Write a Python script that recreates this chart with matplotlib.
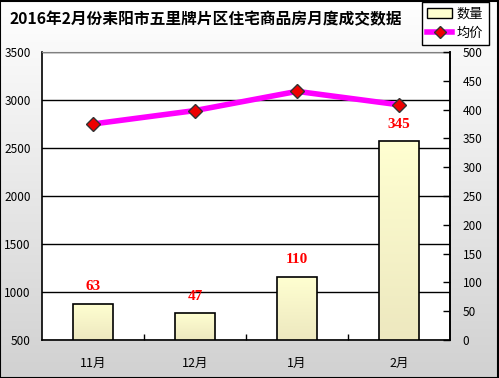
import numpy as np
import matplotlib
matplotlib.use("Agg")
import matplotlib.pyplot as plt
from matplotlib.patches import Rectangle
from matplotlib.lines import Line2D

plt.rcParams['font.family'] = ['Noto Sans CJK SC', 'DejaVu Sans']

title = "2016年2月份耒阳市五里牌片区住宅商品房月度成交数据"
categories = ["11月", "12月", "1月", "2月"]
quantity = [63, 47, 110, 345]
avg_price = [2750, 2890, 3090, 2950]
left_ticks = [500, 1000, 1500, 2000, 2500, 3000, 3500]
right_ticks = [0, 50, 100, 150, 200, 250, 300, 350, 400, 450, 500]

W, H = 499, 378
fig = plt.figure(figsize=(W / 100, H / 100), dpi=100)

# background gradient
bg = fig.add_axes([0, 0, 1, 1], zorder=-10)
grad = np.linspace(0, 1, 256).reshape(-1, 1)
top_c = np.array([1.0, 1.0, 1.0])
bot_c = np.array([0.82, 0.82, 0.82])
img = top_c[None, None, :] * (1 - grad[:, :, None]) + bot_c[None, None, :] * grad[:, :, None]
bg.imshow(img, aspect='auto', extent=[0, 1, 0, 1], origin='upper')
bg.add_patch(Rectangle((0.001, 0.001), 0.997, 0.996, fill=False, edgecolor='black', lw=1.5,
                       transform=bg.transAxes))
bg.set_axis_off()

x0, x1 = 42 / W, 450 / W
y0, y1 = 1 - 340 / H, 1 - 52 / H
rect = [x0, y0, x1 - x0, y1 - y0]

x = np.arange(len(categories))

# price axis (left) with gridlines
ax = fig.add_axes(rect, zorder=1)
ax.set_facecolor('white')
ax.set_ylim(500, 3500)
ax.set_xlim(-0.5, len(categories) - 0.5)
ax.set_yticks(left_ticks)
ax.grid(axis='y', color='black', lw=1)
ax.set_axisbelow(True)
ax.tick_params(axis='y', length=0, pad=8, labelsize=8.5)
ax.set_xticks([0.5, 1.5, 2.5])
ax.set_xticklabels([])
ax.tick_params(axis='x', which='major', direction='in', length=4, width=1)
ax.set_xticks(x, minor=True)
ax.set_xticklabels(categories, minor=True, fontsize=9)
ax.tick_params(axis='x', which='minor', length=0, pad=12)
for s in ['left', 'bottom', 'right']:
    ax.spines[s].set_color('black')
    ax.spines[s].set_linewidth(1.2)
ax.spines['top'].set_color('#808080')

# quantity axis (right) with bars
ax2 = fig.add_axes(rect, zorder=2, sharex=ax)
ax2.patch.set_visible(False)
ax2.set_ylim(0, 500)
ax2.yaxis.tick_right()
ax2.set_yticks(right_ticks)
ax2.tick_params(axis='y', direction='in', length=5, pad=9, labelsize=8.5, width=1)
ax2.tick_params(axis='x', bottom=False, labelbottom=False, which='both')
for s in ax2.spines.values():
    s.set_visible(False)
ax2.spines['right'].set_visible(True)
ax2.spines['right'].set_linewidth(1.2)

bars = ax2.bar(x, quantity, width=0.39, facecolor='none', edgecolor='black', lw=1.2, zorder=3)
bgrad = np.linspace(0, 1, 100).reshape(-1, 1)
btop = np.array([1.0, 1.0, 0.82])
bbot = np.array([0.93, 0.91, 0.75])
bimg = btop[None, None, :] * (1 - bgrad[:, :, None]) + bbot[None, None, :] * bgrad[:, :, None]
for b in bars:
    bx, by = b.get_x(), b.get_y()
    bw, bh = b.get_width(), b.get_height()
    im = ax2.imshow(bimg, aspect='auto', extent=[bx, bx + bw, by, by + bh], origin='upper', zorder=2)
    im.set_clip_path(b)
ax2.set_xlim(-0.5, len(categories) - 0.5)
ax2.set_ylim(0, 500)

for xi, q in zip(x, quantity):
    ax2.annotate(str(q), (xi, q), xytext=(0, 7.5), textcoords='offset points', ha='center', va='bottom',
                 color='red', fontsize=11, fontweight='bold', family=['Liberation Serif'])

# line axis on top (price scale)
ax3 = fig.add_axes(rect, zorder=3, sharex=ax)
ax3.patch.set_visible(False)
ax3.set_ylim(500, 3500)
ax3.set_axis_off()
ax3.plot(x, avg_price, color='#FF00FF', lw=4, marker='D', markersize=7,
         markerfacecolor='#EE0000', markeredgecolor='#333333', markeredgewidth=1, zorder=5)
ax3.set_xlim(-0.5, len(categories) - 0.5)

fig.text(10 / W, 1 - 19 / H, title, fontsize=11.3, fontweight='bold', va='center', ha='left')

handles = [Rectangle((0, 0), 1, 1, facecolor='#FFFFD0', edgecolor='black', lw=1),
           Line2D([], [], color='#FF00FF', lw=4, marker='D', markersize=6,
                  markerfacecolor='#EE0000', markeredgecolor='#333333')]
leg = fig.legend(handles, ['数量', '均价'], loc='upper left', bbox_to_anchor=(422 / W, 1 - 2 / H),
                 borderaxespad=0, fancybox=False, edgecolor='black', framealpha=1, fontsize=9.5,
                 handlelength=1.9, handleheight=0.8, handletextpad=0.35, borderpad=0.4,
                 labelspacing=0.5)
leg.get_frame().set_linewidth(1)

fig.savefig('out.png', dpi=100)
